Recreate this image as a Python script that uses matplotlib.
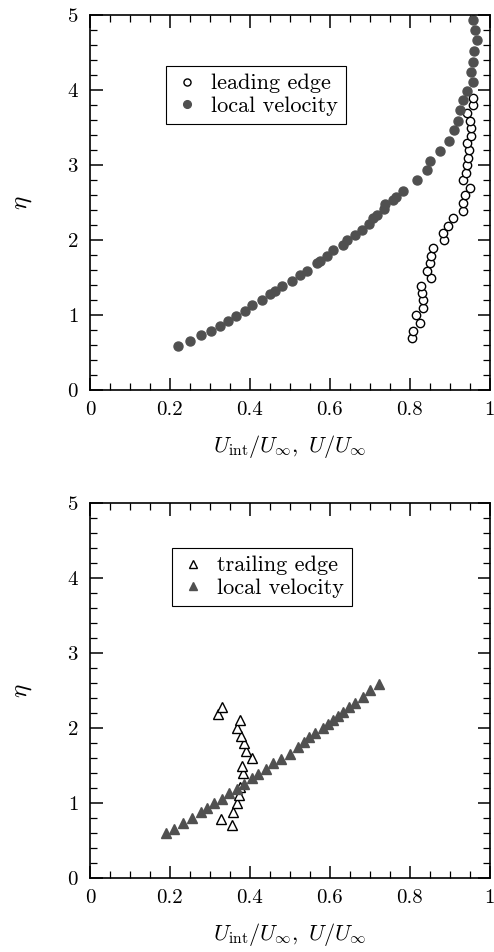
import matplotlib
matplotlib.use('Agg')
import matplotlib.pyplot as plt
from matplotlib.ticker import MultipleLocator

# leading edge profile (open circles)
le_u = [0.804, 0.807, 0.825, 0.815, 0.833, 0.833, 0.829, 0.827, 0.852, 0.842, 0.850, 0.852,
        0.857, 0.885, 0.883, 0.896, 0.907, 0.932, 0.933, 0.938, 0.950, 0.932, 0.940, 0.943,
        0.946, 0.948, 0.942, 0.952, 0.952, 0.950, 0.943, 0.957, 0.957]
le_eta = [0.69, 0.79, 0.90, 1.00, 1.09, 1.20, 1.29, 1.39, 1.49, 1.59, 1.69, 1.79,
          1.89, 2.00, 2.10, 2.19, 2.29, 2.39, 2.50, 2.60, 2.70, 2.80, 2.90, 3.00,
          3.10, 3.20, 3.30, 3.39, 3.49, 3.59, 3.70, 3.80, 3.90]

# local velocity, upper panel (filled circles)
lv1_u = [0.221, 0.250, 0.277, 0.302, 0.325, 0.346, 0.365, 0.388, 0.404, 0.429, 0.450, 0.463,
         0.481, 0.505, 0.525, 0.542, 0.567, 0.575, 0.593, 0.608, 0.633, 0.642, 0.663, 0.679,
         0.698, 0.708, 0.717, 0.735, 0.738, 0.757, 0.765, 0.783, 0.817, 0.842, 0.850, 0.875,
         0.898, 0.910, 0.921, 0.925, 0.932, 0.943, 0.957, 0.952, 0.957, 0.960, 0.967, 0.963,
         0.957]
lv1_eta = [0.59, 0.66, 0.73, 0.79, 0.86, 0.92, 0.99, 1.06, 1.13, 1.20, 1.28, 1.32,
           1.39, 1.46, 1.53, 1.59, 1.69, 1.72, 1.79, 1.87, 1.93, 2.00, 2.07, 2.13,
           2.21, 2.30, 2.33, 2.42, 2.48, 2.53, 2.57, 2.66, 2.80, 2.93, 3.06, 3.19,
           3.32, 3.47, 3.59, 3.73, 3.87, 3.99, 4.11, 4.24, 4.38, 4.52, 4.67, 4.80,
           4.93]

# trailing edge profile (open triangles)
te_u = [0.354, 0.327, 0.358, 0.367, 0.373, 0.375, 0.383, 0.380, 0.404, 0.390, 0.386, 0.377,
        0.368, 0.375, 0.321, 0.329]
te_eta = [0.71, 0.79, 0.88, 1.00, 1.11, 1.22, 1.40, 1.49, 1.60, 1.70, 1.80, 1.89,
          2.00, 2.11, 2.19, 2.28]

# local velocity, lower panel (filled triangles)
lv2_u = [0.190, 0.210, 0.233, 0.254, 0.277, 0.293, 0.310, 0.329, 0.348, 0.368, 0.385, 0.404,
         0.419, 0.439, 0.458, 0.478, 0.500, 0.521, 0.535, 0.548, 0.563, 0.583, 0.595, 0.607,
         0.620, 0.633, 0.648, 0.663, 0.683, 0.700, 0.723]
lv2_eta = [0.60, 0.66, 0.74, 0.80, 0.88, 0.93, 1.00, 1.06, 1.13, 1.19, 1.26, 1.33,
           1.39, 1.46, 1.53, 1.59, 1.66, 1.75, 1.81, 1.88, 1.93, 2.00, 2.06, 2.11,
           2.16, 2.22, 2.28, 2.34, 2.42, 2.51, 2.59]

plt.rcParams['font.family'] = ['cmr10', 'DejaVu Serif']
plt.rcParams['mathtext.fontset'] = 'cm'
plt.rcParams['axes.formatter.use_mathtext'] = True

fill = '#505050'
fig = plt.figure(figsize=(4.94, 9.52), dpi=100)
ax1 = fig.add_axes([0.182, 0.5903, 0.8097, 0.3939])
ax2 = fig.add_axes([0.182, 0.0777, 0.8097, 0.3939])

ax1.plot(le_u, le_eta, 'o', ms=6, mfc='white', mec='black', mew=1.0, ls='none', label='leading edge')
ax1.plot(lv1_u, lv1_eta, 'o', ms=6.5, mfc=fill, mec=fill, ls='none', label='local velocity')
ax2.plot(te_u, te_eta, '^', ms=6.5, mfc='white', mec='black', mew=1.0, ls='none', label='trailing edge')
ax2.plot(lv2_u, lv2_eta, '^', ms=7, mfc=fill, mec=fill, ls='none', label='local velocity')

for ax, anchor in ((ax1, (0.19, 0.864)), (ax2, (0.205, 0.88))):
    ax.set_xlim(0, 1)
    ax.set_ylim(0, 5)
    ax.xaxis.set_major_locator(MultipleLocator(0.2))
    ax.xaxis.set_minor_locator(MultipleLocator(0.05))
    ax.yaxis.set_major_locator(MultipleLocator(1))
    ax.yaxis.set_minor_locator(MultipleLocator(0.2))
    ax.set_xticks([0, 0.2, 0.4, 0.6, 0.8, 1.0])
    ax.set_xticklabels(['0', '0.2', '0.4', '0.6', '0.8', '1'])
    ax.tick_params(which='both', direction='in', top=True, right=True, labelsize=15)
    ax.tick_params(which='major', length=9, width=1.1, pad=8)
    ax.tick_params(which='minor', length=5, width=0.9)
    for s in ax.spines.values():
        s.set_linewidth(1.2)
    ax.set_xlabel(r'$U_{\rm int}/U_\infty,\ U/U_\infty$', fontsize=16, labelpad=10)
    ax.set_ylabel(r'$\eta$', fontsize=18, labelpad=24)
    leg = ax.legend(loc='upper left', bbox_to_anchor=anchor, fontsize=16, fancybox=False,
                    edgecolor='black', framealpha=1, handletextpad=0.5, borderpad=0.35,
                    labelspacing=0.15, handlelength=1.2, markerscale=0.85,
                    borderaxespad=0)
    leg.get_frame().set_linewidth(0.8)

fig.savefig('out.png', dpi=100)
